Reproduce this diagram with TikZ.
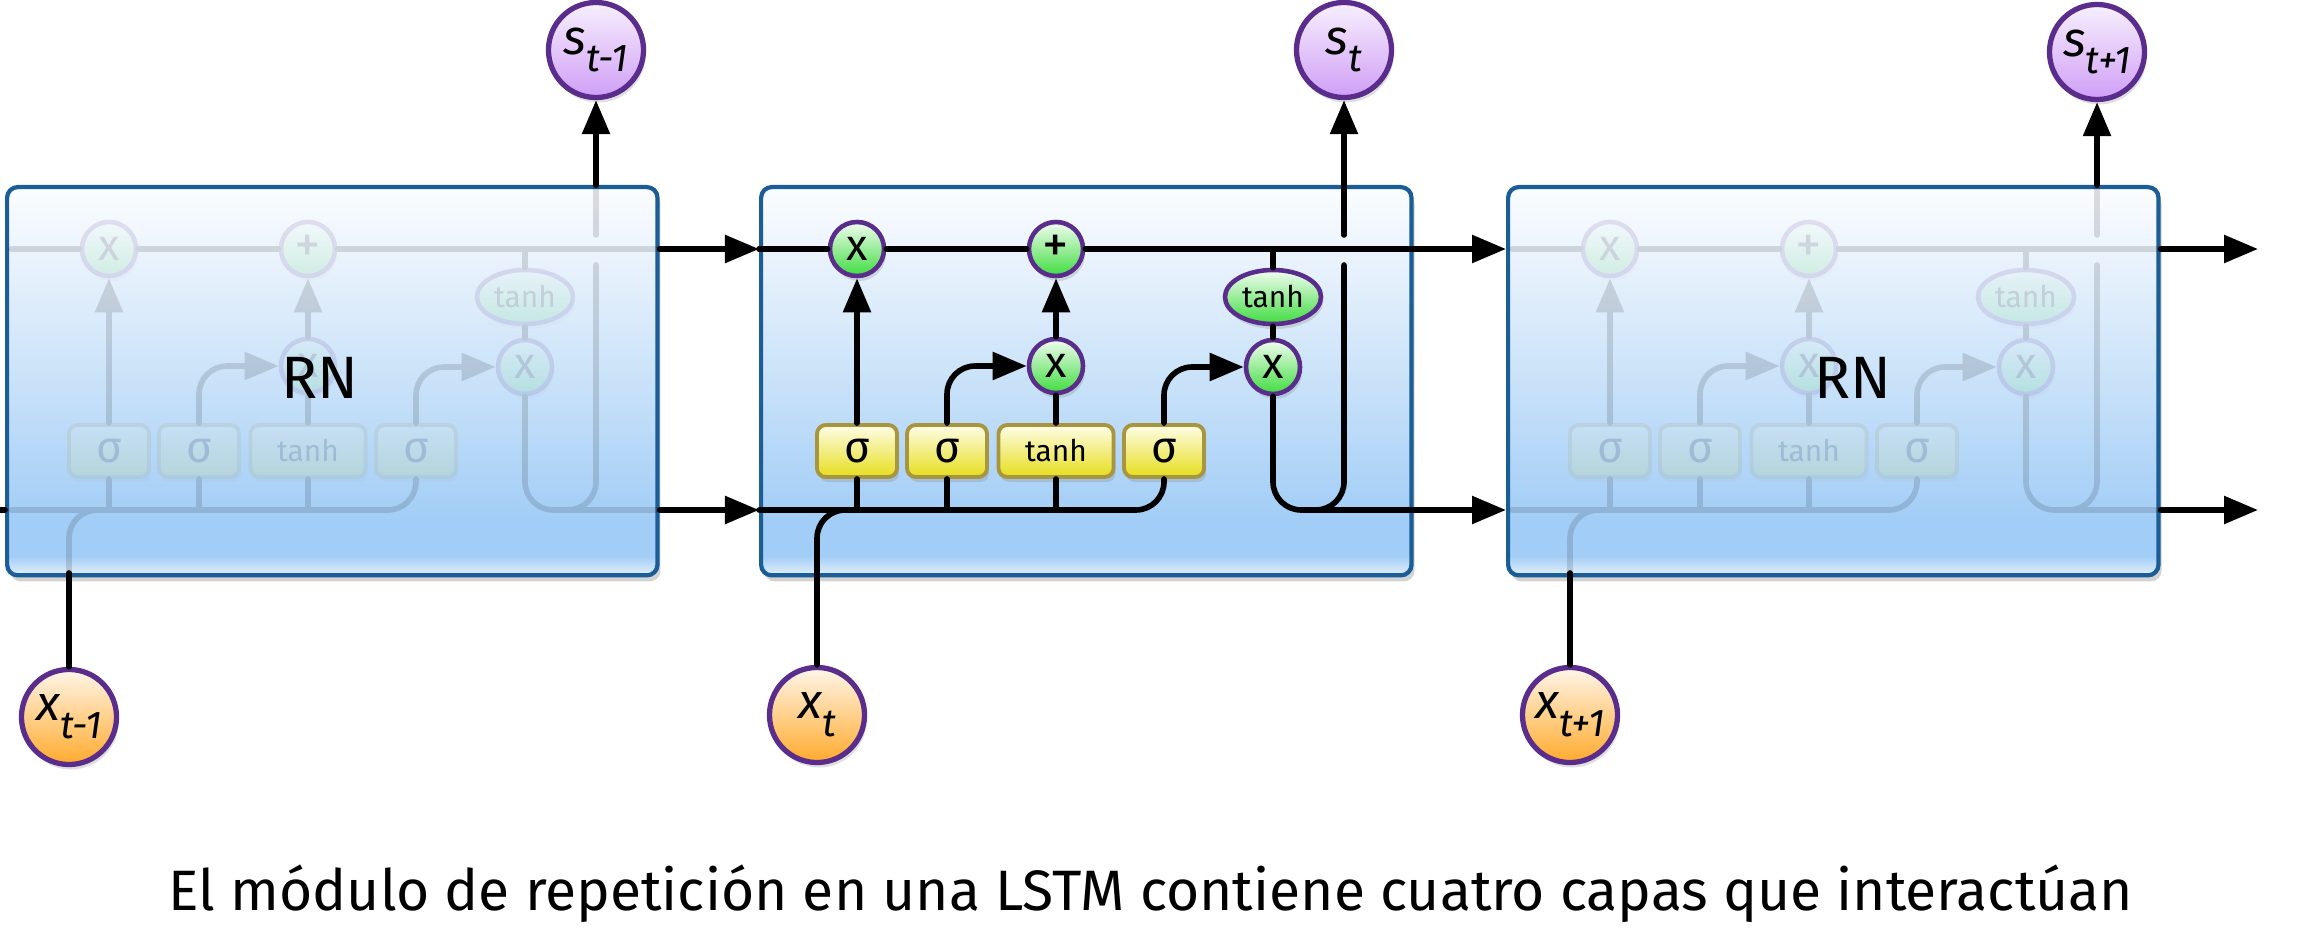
\documentclass[tikz,border=0pt]{standalone}
\usepackage{fontspec}
\setmainfont{Fira Sans}
\usetikzlibrary{arrows.meta,shapes.geometric,shadows}

\definecolor{cellline}{HTML}{1B5D97}
\definecolor{cellA}{HTML}{E4F0FB}
\definecolor{cellB}{HTML}{A2CDF6}
\definecolor{cellC}{HTML}{C9E2F9}
\definecolor{cellD}{HTML}{EAF3FC}
\definecolor{cellE}{HTML}{FBFDFF}
\definecolor{ringline}{HTML}{5A2D8C}
\definecolor{opTop}{HTML}{F2FDF2}
\definecolor{opBot}{HTML}{3FDC3F}
\definecolor{gateline}{HTML}{A8953F}
\definecolor{gateTop}{HTML}{FFFDE8}
\definecolor{gateBot}{HTML}{E6DE1C}
\definecolor{sTop}{HTML}{F7F0FD}
\definecolor{sBot}{HTML}{D09EF6}
\definecolor{xTop}{HTML}{FFF6EA}
\definecolor{xBot}{HTML}{FFAA2C}

\pgfdeclareverticalshading{cellshade}{100bp}{color(0bp)=(cellA); color(25bp)=(cellA); color(27.5bp)=(cellB); color(32bp)=(cellB); color(50bp)=(cellC); color(66bp)=(cellD); color(75bp)=(cellE); color(100bp)=(cellE)}

\newcommand\statefont{\fontsize{14}{16}\selectfont}
\newcommand\subfont{\fontsize{11}{12}\selectfont}
\newcommand\opfont{\fontsize{12.5}{14}\selectfont}
\newcommand\tanhfont{\fontsize{8.5}{10}\selectfont}
\newcommand\sublbl[2]{\textit{#1}\raisebox{-5pt}{\subfont\textit{#2}}}

\tikzset{
  conn/.style={line width=1.6pt, line cap=round, rounded corners=8pt},
  connarrow/.style={conn, -{Triangle[length=0.34cm,width=0.27cm]}},
  cellbox/.style={draw=cellline, line width=1.2pt, rounded corners=3pt, shade, shading=cellshade,
    minimum width=6.5cm, minimum height=3.88cm, inner sep=0pt, anchor=north west,
    drop shadow={opacity=0.35, shadow xshift=0.3mm, shadow yshift=-0.6mm}},
  ringshadow/.style={drop shadow={opacity=0.25, shadow xshift=0.2mm, shadow yshift=-0.5mm}},
  opnode/.style={circle, draw=ringline, line width=1.3pt, top color=opTop, bottom color=opBot,
    minimum size=0.54cm, inner sep=0pt, font=\opfont, ringshadow},
  gatebox/.style={rectangle, rounded corners=2.5pt, draw=gateline, line width=1.1pt,
    top color=gateTop, bottom color=gateBot, minimum width=0.8cm, minimum height=0.52cm,
    inner sep=0pt, font=\opfont, ringshadow},
  outstate/.style={circle, draw=ringline, line width=1.5pt, top color=sTop, bottom color=sBot,
    minimum size=0.95cm, inner sep=0pt, font=\statefont, ringshadow},
  instate/.style={outstate, top color=xTop, bottom color=xBot},
  lstm/.pic={
    % gate layers
    \node[gatebox] (-sf) at (98,266) {σ};
    \node[gatebox] (-si) at (188,266) {σ};
    \node[gatebox, minimum width=1.15cm, font=\tanhfont] (-tg) at (297,266) {tanh};
    \node[gatebox] (-so) at (405,266) {σ};
    % pointwise operations
    \node[opnode] (-fx) at (98,64) {x};
    \node[opnode, font=\fontsize{15}{15}\selectfont] (-add) at (297,64) {+};
    \node[opnode] (-ix) at (297,181) {x};
    \node[opnode] (-ox) at (514,182) {x};
    \node[opnode, ellipse, minimum width=0.96cm, font=\tanhfont] (-th) at (514,112) {tanh};
    \coordinate (-tl) at (0,64);
    \coordinate (-tr) at (650,64);
    \coordinate (-bl) at (0,325);
    \coordinate (-br) at (650,325);
    \coordinate (-in) at (58,388);
    \coordinate (-mg) at (120,325);
    \coordinate (-j) at (550,325);
    \coordinate (-gapb) at (585,80);
    \coordinate (-gapt) at (585,50);
    \coordinate (-up) at (585,0);
    % cell state
    \draw[conn] (-tl) -- (-fx);
    \draw[conn] (-fx) -- (-add);
    \draw[conn] (-add) -- (-tr);
    \draw[conn] (-th) -- (-th |- -tl);
    % gates
    \draw[connarrow] (-sf) -- (-fx);
    \draw[connarrow] (-si) |- (-ix);
    \draw[conn] (-tg) -- (-ix);
    \draw[connarrow] (-ix) -- (-add);
    \draw[connarrow] (-so) |- (-ox);
    \draw[conn] (-ox) -- (-th);
    % hidden state
    \draw[conn] (-bl) -| (-so);
    \draw[conn] (-sf) -- (-sf |- -bl);
    \draw[conn] (-si) -- (-si |- -bl);
    \draw[conn] (-tg) -- (-tg |- -bl);
    \draw[conn] (-in) |- (-mg);
    \draw[conn] (-ox) |- (-br);
    \draw[conn] (-j) -| (-gapb);
    \draw[conn] (-gapt) -- (-up);
  }
}

\begin{document}
\begin{tikzpicture}[x=0.01cm, y=-0.01cm]
\useasboundingbox (0,0) rectangle (2306,943);

% modules
\node[cellbox] (L) at (5,185) {};
\node[cellbox] (M) at (759,185) {};
\node[cellbox] (R) at (1506,185) {};
\begin{scope}[transparency group, opacity=0.13]
  \pic (gl) at (11,185) {lstm};
  \pic (gr) at (1512,185) {lstm};
\end{scope}
\pic (m) at (759,185) {lstm};
\node[font=\fontsize{17}{20}\selectfont] (rnL) at (320,378) {RN};
\node[font=\fontsize{17}{20}\selectfont] (rnR) at (1853,378) {RN};

% outputs and inputs
\node[outstate] (sL) at (596,50) {\sublbl{s}{t-1}};
\node[outstate] (sM) at (1344,50) {\sublbl{s}{t}};
\node[outstate] (sR) at (2097,52) {\sublbl{s}{t+1}};
\node[instate] (xL) at (69,717) {\sublbl{x}{t-1}};
\node[instate] (xM) at (817,715) {\sublbl{x}{t}};
\node[instate] (xR) at (1570,715) {\sublbl{x}{t+1}};
\coordinate (hIn) at (0,510);
\coordinate (cOut) at (2258,249);
\coordinate (hOut) at (2258,510);

\draw[connarrow] (gl-up) -- (sL);
\draw[connarrow] (m-up) -- (sM);
\draw[connarrow] (gr-up) -- (sR);
\draw[conn] (xL) -- (gl-in);
\draw[conn] (xM) -- (m-in);
\draw[conn] (xR) -- (gr-in);

\draw[conn] (hIn) -- (hIn -| L.west);
\draw[connarrow] (gl-tr -| L.east) -- (m-tl);
\draw[connarrow] (gl-br -| L.east) -- (m-bl);
\draw[connarrow] (m-tr) -- (m-tr -| R.west);
\draw[connarrow] (m-br) -- (m-br -| R.west);
\draw[connarrow] (gr-tr -| R.east) -- (cOut);
\draw[connarrow] (gr-br -| R.east) -- (hOut);

\node[font=\fontsize{16.2}{19}\selectfont] (cap) at (1151,894) {El módulo de repetición en una LSTM contiene cuatro capas que interactúan};
\end{tikzpicture}
\end{document}
